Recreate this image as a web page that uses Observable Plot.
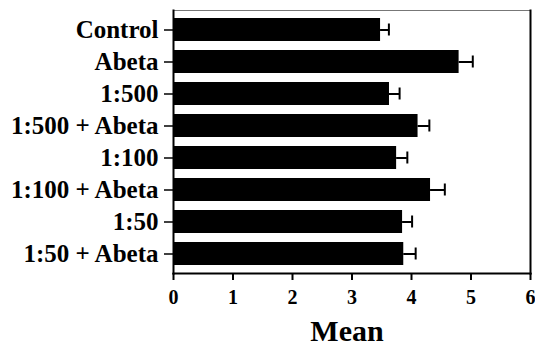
<!DOCTYPE html>
<html>
<head>
<meta charset="utf-8">
<script src="https://cdn.jsdelivr.net/npm/d3@7"></script>
<script src="https://cdn.jsdelivr.net/npm/@observablehq/plot@0.6"></script>
<style>
  html, body { margin: 0; padding: 0; background: #fff; }
  #chart svg, #chart svg text { font-family: "Liberation Serif", "Times New Roman", serif !important; font-weight: bold; }
</style>
</head>
<body>
<div id="chart"></div>
<script>
const categories = ["Control", "Abeta", "1:500", "1:500 + Abeta", "1:100", "1:100 + Abeta", "1:50", "1:50 + Abeta"];
const means = [3.48, 4.80, 3.63, 4.11, 3.75, 4.32, 3.85, 3.87];
const errors = [0.14, 0.23, 0.17, 0.19, 0.18, 0.24, 0.16, 0.20];
const xTicks = [0, 1, 2, 3, 4, 5, 6];

const data = categories.map((c, i) => ({cat: c, mean: means[i], hi: means[i] + errors[i]}));

const chart = Plot.plot({
  width: 535,
  height: 345,
  marginLeft: 173,
  marginRight: 5,
  marginTop: 10,
  marginBottom: 72,
  style: "font-family: 'Liberation Serif', serif; font-weight: bold; color: #000; background: #fff;",
  x: {domain: [0, 6]},
  y: {domain: categories, paddingInner: 0.29, paddingOuter: 0.145},
  marks: [
    Plot.frame({anchor: "top", stroke: "#777", strokeWidth: 1}),
    Plot.frame({anchor: "right", stroke: "#000", strokeWidth: 2}),
    Plot.barX(data, {x: "mean", y: "cat", fill: "#000"}),
    Plot.ruleY(data, {y: "cat", x1: "mean", x2: "hi", stroke: "#000", strokeWidth: 2}),
    Plot.tickX(data, {x: "hi", y: "cat", stroke: "#000", strokeWidth: 2, insetTop: 5.5, insetBottom: 5.5}),
    Plot.frame({anchor: "left", stroke: "#000", strokeWidth: 2}),
    Plot.frame({anchor: "bottom", stroke: "#000", strokeWidth: 2}),
    Plot.axisY({tickSize: 9, tickPadding: 6, fontSize: 25, label: null, stroke: "#000", strokeWidth: 1.5}),
    Plot.axisX({ticks: xTicks, tickSize: 7, tickPadding: 9, fontSize: 20, label: null, tickFormat: d3.format("d"), stroke: "#000", strokeWidth: 2}),
    Plot.text(["Mean"], {frameAnchor: "bottom", lineAnchor: "bottom", dy: 67, dx: -5, fontSize: 30, fontWeight: "bold", fill: "#000"})
  ]
});
document.getElementById("chart").appendChild(chart);
</script>
</body>
</html>
